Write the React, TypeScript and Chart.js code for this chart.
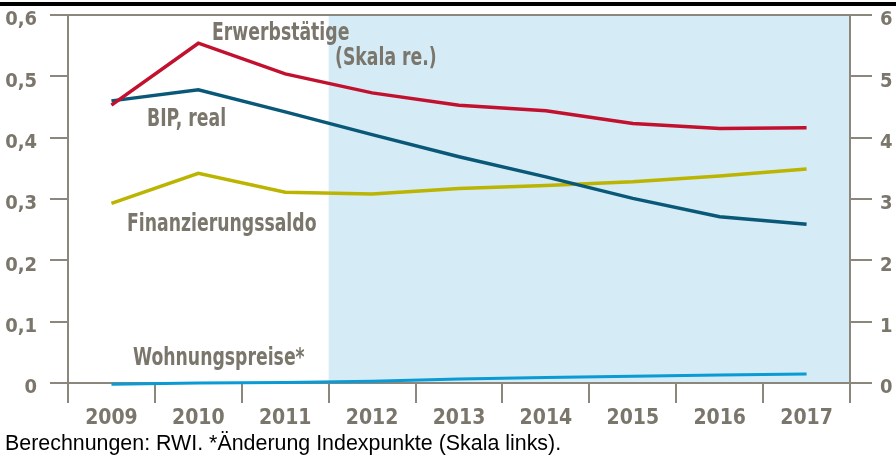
import React, { useEffect, useRef } from "react";
import { Chart, registerables } from "chart.js";

Chart.register(...registerables);

// ---- data ----
const years = ["2009", "2010", "2011", "2012", "2013", "2014", "2015", "2016", "2017"];
// Erwerbstätige (right scale)
const erwerbstaetige = [4.53, 5.54, 5.04, 4.73, 4.53, 4.44, 4.23, 4.15, 4.16];
// BIP, real (left scale)
const bipReal = [0.46, 0.478, 0.442, 0.405, 0.369, 0.336, 0.301, 0.271, 0.259];
// Finanzierungssaldo (left scale)
const finanzierungssaldo = [0.293, 0.342, 0.311, 0.308, 0.317, 0.322, 0.328, 0.3375, 0.349];
// Wohnungspreise* (left scale)
const wohnungspreise = [-0.002, 0.0, 0.001, 0.003, 0.0065, 0.009, 0.011, 0.013, 0.0147];

const leftTicks = [0, 0.1, 0.2, 0.3, 0.4, 0.5, 0.6];
const rightTicks = [0, 1, 2, 3, 4, 5, 6];
const forecastStartIndex = 3; // shading starts before 2012

const seriesLabels = {
  erw: "Erwerbstätige",
  erwSub: "(Skala re.)",
  bip: "BIP, real",
  fin: "Finanzierungssaldo",
  wohn: "Wohnungspreise*",
};
const footer = "Berechnungen: RWI. *Änderung Indexpunkte (Skala links).";

const FONT = "'DejaVu Sans Condensed', 'DejaVu Sans', sans-serif";
const AXIS = "#8c877d";
const TEXT = "#7b766c";

function squeezedText(ctx: CanvasRenderingContext2D, text: string, x: number, y: number, sx: number) {
  ctx.save();
  ctx.translate(x, y);
  ctx.scale(sx, 1);
  ctx.fillText(text, 0, 0);
  ctx.restore();
}

const decorPlugin = {
  id: "decor",
  beforeDraw(chart: any) {
    const { ctx, chartArea } = chart;
    const x = chart.scales.x;
    const xs = x.getPixelForValue(forecastStartIndex - 0.5);
    ctx.save();
    ctx.fillStyle = "#d5ebf5";
    ctx.fillRect(xs, chartArea.top, chartArea.right - xs, chartArea.bottom - chartArea.top);
    ctx.restore();
  },
  afterDraw(chart: any) {
    const { ctx } = chart;
    ctx.save();
    // top black rule
    ctx.fillStyle = "#000";
    ctx.fillRect(0, 2, chart.width, 4);
    // series labels
    ctx.fillStyle = TEXT;
    ctx.textBaseline = "alphabetic";
    ctx.textAlign = "left";
    ctx.font = `bold 24px ${FONT}`;
    squeezedText(ctx, seriesLabels.erw, 212, 40, 0.8);
    squeezedText(ctx, seriesLabels.erwSub, 335, 65, 0.8);
    squeezedText(ctx, seriesLabels.bip, 147, 126, 0.8);
    squeezedText(ctx, seriesLabels.fin, 127, 231, 0.8);
    squeezedText(ctx, seriesLabels.wohn, 133, 365, 0.8);
    // footer
    ctx.fillStyle = "#000";
    ctx.font = "21.4px 'Liberation Sans', Arial, sans-serif";
    ctx.fillText(footer, 5, 450);
    ctx.restore();
  },
};

export default function App() {
  const ref = useRef<HTMLCanvasElement | null>(null);
  useEffect(() => {
    document.body.style.margin = "0";
    const canvas = ref.current!;
    const chart = new Chart(canvas, {
      type: "line",
      data: {
        labels: years,
        datasets: [
          {
            label: seriesLabels.erw,
            data: erwerbstaetige,
            yAxisID: "y1",
            borderColor: "#c2102f",
            borderWidth: 3.5,
            pointRadius: 0,
            tension: 0,
            clip: 6,
          },
          {
            label: seriesLabels.bip,
            data: bipReal,
            yAxisID: "y",
            borderColor: "#0a5878",
            borderWidth: 3.5,
            pointRadius: 0,
            tension: 0,
            clip: 6,
          },
          {
            label: seriesLabels.fin,
            data: finanzierungssaldo,
            yAxisID: "y",
            borderColor: "#bbb400",
            borderWidth: 3.5,
            pointRadius: 0,
            tension: 0,
            clip: 6,
          },
          {
            label: seriesLabels.wohn,
            data: wohnungspreise,
            yAxisID: "y",
            borderColor: "#0a9ad4",
            borderWidth: 3,
            pointRadius: 0,
            tension: 0,
            clip: 6,
          },
        ],
      },
      options: {
        responsive: false,
        animation: false,
        devicePixelRatio: 1,
        layout: { padding: { top: 15, left: 0, right: 0, bottom: 0 } },
        plugins: { legend: { display: false }, tooltip: { enabled: false } },
        scales: {
          x: {
            type: "category",
            offset: true,
            grid: {
              offset: true,
              drawOnChartArea: false,
              drawTicks: true,
              tickLength: 20,
              color: AXIS,
              tickColor: AXIS,
              lineWidth: 2,
            },
            border: { display: true, color: AXIS, width: 2 },
            ticks: {
              color: TEXT,
              font: { family: FONT, size: 21, weight: "bold" },
              padding: 3,
              maxRotation: 0,
              autoSkip: false,
            },
            afterFit: (s: any) => {
              s.height = 75;
              s.paddingLeft = 0;
              s.paddingRight = 0;
            },
          },
          y: {
            position: "left",
            min: 0,
            max: 0.6,
            afterBuildTicks: (s: any) => {
              s.ticks = leftTicks.map((v) => ({ value: v }));
            },
            grid: {
              drawOnChartArea: true,
              drawTicks: true,
              tickLength: 18,
              color: (c: any) => (c.tick && Math.abs(c.tick.value - 0.6) < 1e-9 ? AXIS : "rgba(0,0,0,0)"),
              tickColor: AXIS,
              lineWidth: 2,
            },
            border: { display: true, color: AXIS, width: 2 },
            ticks: {
              color: TEXT,
              font: { family: FONT, size: 20, weight: "bold" },
              padding: 13,
              labelOffset: 5,
              callback: (v: any) => (Number(v) === 0 ? "0" : Number(v).toFixed(1).replace(".", ",")),
            },
            afterFit: (s: any) => {
              s.width = 68;
              s.paddingTop = 0;
              s.paddingBottom = 0;
            },
          },
          y1: {
            position: "right",
            min: 0,
            max: 6,
            afterBuildTicks: (s: any) => {
              s.ticks = rightTicks.map((v) => ({ value: v }));
            },
            grid: {
              drawOnChartArea: false,
              drawTicks: true,
              tickLength: 22,
              color: AXIS,
              tickColor: AXIS,
              lineWidth: 2,
            },
            border: { display: true, color: AXIS, width: 2 },
            ticks: {
              color: TEXT,
              font: { family: FONT, size: 20, weight: "bold" },
              padding: 8,
              labelOffset: 5,
              callback: (v: any) => String(v),
            },
            afterFit: (s: any) => {
              s.width = 46;
              s.paddingTop = 0;
              s.paddingBottom = 0;
            },
          },
        },
      },
      plugins: [decorPlugin],
    });
    return () => chart.destroy();
  }, []);
  return (
    <div style={{ position: "relative", width: 896, height: 458 }}>
      <canvas ref={ref} width={896} height={458} style={{ display: "block" }} />
    </div>
  );
}
